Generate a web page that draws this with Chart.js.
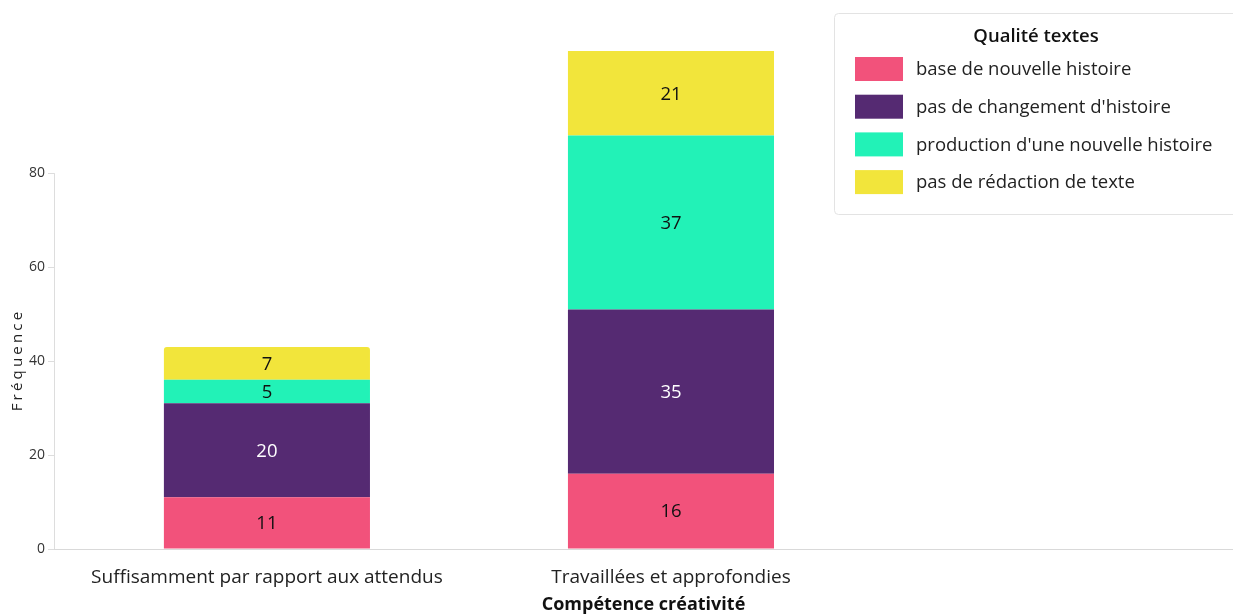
<!DOCTYPE html>
<html><head><meta charset="utf-8">
<script src="https://cdn.jsdelivr.net/npm/chart.js@4/dist/chart.umd.min.js"></script>
<style>html,body{margin:0;padding:0;background:#fff;overflow:hidden}#wrap{position:relative;width:1233px;height:614px}</style>
</head><body><div id="wrap"><canvas id="c" width="1233" height="614"></canvas></div>
<script>
const categories = ['Suffisamment par rapport aux attendus', 'Travaillées et approfondies'];
const seriesNames = ['base de nouvelle histoire', "pas de changement d'histoire", "production d'une nouvelle histoire", 'pas de rédaction de texte'];
const baseNouvelle = [11, 16];
const pasChangement = [20, 35];
const productionNouvelle = [5, 37];
const pasRedaction = [7, 21];
const yTicks = [0, 20, 40, 60, 80];
const legendTitle = 'Qualité textes';
const xTitle = 'Compétence créativité';
const yTitle = 'Fréquence';

const FONT = '"Open Sans", "Noto Sans", sans-serif';
const colors = ['#f2527b', '#552a72', '#22f2b7', '#f2e53b'];
const labelColors = ['#111111', '#ffffff', '#111111', '#111111'];
const seriesValues = [baseNouvelle, pasChangement, productionNouvelle, pasRedaction];

const datasets = seriesNames.map((name, s) => ({
  label: name,
  data: categories.map((c, i) => ({x: i, y: seriesValues[s][i]})),
  backgroundColor: colors[s],
  borderWidth: 0,
  borderRadius: s === 3 ? {topLeft: 3, topRight: 3, bottomLeft: 0, bottomRight: 0} : 0,
  borderSkipped: false,
  categoryPercentage: 0.51,
  barPercentage: 1
}));

const extras = {
  id: 'extras',
  afterDatasetsDraw(chart) {
    const ctx = chart.ctx, area = chart.chartArea;
    ctx.save();
    ctx.font = '18.5px ' + FONT;
    ctx.textAlign = 'center';
    ctx.textBaseline = 'middle';
    chart.data.datasets.forEach((ds, di) => {
      const meta = chart.getDatasetMeta(di);
      meta.data.forEach((el, i) => {
        const top = Math.max(Math.min(el.y, el.base), area.top);
        const bot = Math.min(Math.max(el.y, el.base), area.bottom);
        ctx.fillStyle = labelColors[di];
        ctx.fillText(String(ds.data[i].y), el.x, (top + bot) / 2 + 1);
      });
    });
    ctx.restore();
  },
  afterDraw(chart) {
    const ctx = chart.ctx, y = chart.scales.y, area = chart.chartArea;
    ctx.save();
    ctx.strokeStyle = '#dddddd';
    ctx.lineWidth = 1;
    ctx.beginPath();
    ctx.moveTo(area.left + 0.5, y.getPixelForValue(yTicks[yTicks.length - 1]));
    ctx.lineTo(area.left + 0.5, y.getPixelForValue(0));
    ctx.stroke();
    ctx.translate(18, 360);
    ctx.rotate(-Math.PI / 2);
    ctx.font = '15px ' + FONT;
    ctx.fillStyle = '#222222';
    ctx.letterSpacing = '3.2px';
    ctx.textAlign = 'center';
    ctx.textBaseline = 'middle';
    ctx.fillText(yTitle, 0, 0);
    ctx.restore();

    ctx.save();
    const bx = 834.5, by = 13.5, bw = 420, bh = 201;
    ctx.strokeStyle = '#e3e3e3';
    ctx.lineWidth = 1;
    ctx.beginPath();
    ctx.roundRect(bx, by, bw, bh, 4);
    ctx.fillStyle = '#ffffff';
    ctx.fill();
    ctx.stroke();
    ctx.fillStyle = '#111111';
    ctx.font = '600 18.5px ' + FONT;
    ctx.textAlign = 'center';
    ctx.textBaseline = 'middle';
    ctx.fillText(legendTitle, 1036, 37);
    ctx.font = '18.5px ' + FONT;
    ctx.textAlign = 'left';
    chart.data.datasets.forEach((ds, i) => {
      const cy = 69 + i * 37.7;
      ctx.fillStyle = ds.backgroundColor;
      ctx.fillRect(855, cy - 12, 48, 24);
      ctx.fillStyle = '#222222';
      ctx.fillText(ds.label, 916, cy + 1);
    });
    ctx.restore();
  }
};

new Chart(document.getElementById('c'), {
  type: 'bar',
  data: {datasets},
  options: {
    responsive: false,
    animation: false,
    layout: {padding: {top: 51, right: 0, left: 0, bottom: 0}},
    plugins: {legend: {display: false}, tooltip: {enabled: false}, title: {display: false}},
    scales: {
      x: {
        type: 'linear',
        stacked: true,
        offset: false,
        min: -0.527,
        max: 2.391,
        afterBuildTicks: s => { s.ticks = categories.map((c, i) => ({value: i})); },
        afterFit: s => { s.height = 65; },
        grid: {display: false, drawTicks: false, tickLength: 0},
        border: {display: true, color: '#d9d9d9', width: 1},
        ticks: {
          callback: v => categories[v] !== undefined ? categories[v] : '',
          font: {family: FONT, size: 19},
          color: '#222222',
          padding: 17,
          maxRotation: 0,
          autoSkip: false
        },
        title: {display: true, text: xTitle, font: {family: FONT, size: 18, weight: 'bold', lineHeight: 1.05}, color: '#111111', padding: {top: 0, bottom: 0}}
      },
      y: {
        stacked: true,
        min: 0,
        max: 106,
        afterBuildTicks: s => { s.ticks = yTicks.map(v => ({value: v})); },
        afterFit: s => { s.width = 54; },
        grid: {display: true, drawOnChartArea: false, drawTicks: true, tickLength: 6, color: '#dddddd'},
        border: {display: false},
        ticks: {font: {family: FONT, size: 14}, color: '#333333', padding: 3}
      }
    }
  },
  plugins: [extras]
});
</script></body></html>
